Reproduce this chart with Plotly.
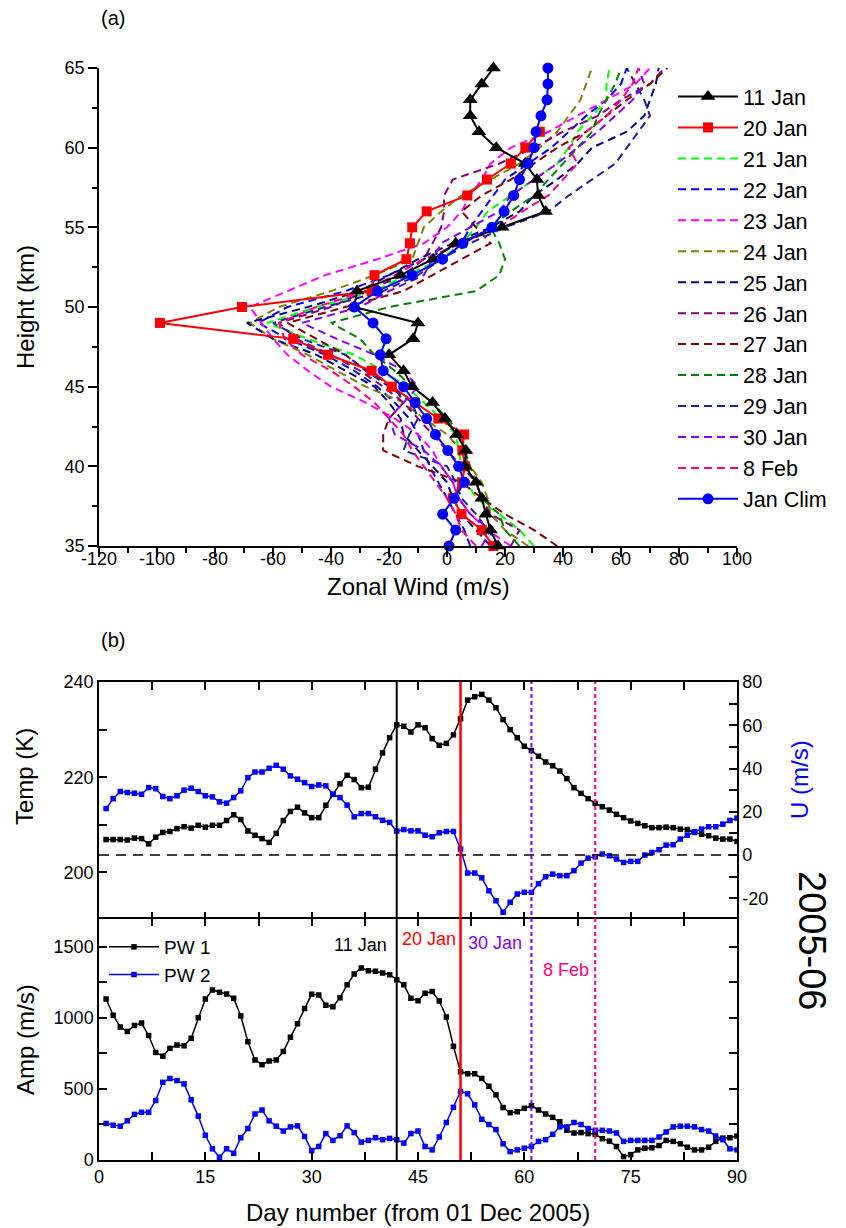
import plotly.graph_objects as go

# ---------------- (a) zonal wind profiles (m/s) vs height (km) ----------------
heights = list(range(35, 66))
heights_20jan = list(range(35, 62))

wind_11jan = [17.6, 15, 13.4, 12, 10, 6.2, 6.5, 3.4, -0.7, -5, -12, -15, -20, -11.7, -10,
              -32, -31, -16, -4.8, 3, 19, 34, 31.4, 31, 27, 17, 11, 8, 8, 12, 16]
wind_20jan = [16, 12, 5, 2, 5.2, 6.2, 5.3, 5.9, -3, -11, -19, -26, -41, -53, -99,
              -70.7, -26, -25, -14, -12.8, -12, -7, 7, 13.8, 22, 27, 32]
wind_21jan = [30, 25, 18, 10, 7, 5, 4, 3, -2, -8, -14, -22, -32, -48, -62,
              -45, -25, -14, -2, 5, 10, 14, 22, 30, 38, 42, 45, 50, 55, 55, 56]
wind_22jan = [8, 6, 3, 0, -3, -6, -8, -10, -13, -18, -24, -32, -42, -55, -65,
              -55, -35, -20, -8, 5, 8, 12, 16, 20, 28, 36, 42, 48, 55, 60, 62]
wind_23jan = [22, 14, 8, 4, 2, -2, -5, -10, -18, -28, -40, -48, -55, -60, -64,
              -68, -55, -42, -24, -8, 0, 5, 8, 12, 15, 22, 35, 45, 55, 65, 70]
wind_24jan = [28, 20, 15, 14, 12, 8, 5, 0, -8, -15, -28, -38, -48, -60, -68,
              -58, -40, -25, -12, -10, -8, -2, 5, 15, 25, 32, 38, 42, 46, 48, 50]
wind_25jan = [15, 10, 5, 2, 0, -5, -10, -15, -16, -20, -25, -35, -45, -60, -69,
              -48, -30, -20, -10, 2, 15, 25, 30, 38, 45, 50, 62, 68, 70, 72, 73]
wind_26jan = [22, 25, 15, 12, 10, 5, 0, -5, -10, -15, -22, -30, -40, -52, -58,
              -40, -28, -15, -8, -5, -2, -1, -1, 2, 18, 30, 40, 52, 60, 70, 75]
wind_27jan = [38, 30, 20, 12, 5, -10, -22, -22, -20, -15, -18, -28, -35, -45, -55,
              -35, -15, -5, 5, 15, 10, 5, 12, 22, 30, 38, 48, 55, 62, 70, 76]
wind_28jan = [25, 20, 18, 12, 10, 8, 6, 5, 0, -5, -12, -18, -25, -30, -40,
              -20, 10, 18, 20, 18, 15, 22, 30, 35, 40, 45, 50, 52, 55, 58, 60]
wind_29jan = [18, 14, 10, 5, 3, 0, -15, -13, -10, -12, -20, -28, -35, -50, -60,
              -42, -22, -10, -2, 8, 20, 35, 42, 50, 58, 62, 66, 70, 68, 65, 62]
wind_30jan = [12, 15, 8, 4, 2, -2, -8, -18, -20, -15, -10, -15, -25, -38, -50,
              -30, -20, -8, -5, -2, 8, 18, 22, 30, 38, 45, 52, 58, 64, 68, 66]
wind_8feb = [10, 5, 3, 0, -4, -8, -12, -15, -20, -25, -32, -40, -50, -56, -58,
             -45, -28, -18, -8, 5, 18, 26, 35, 40, 45, 42, 48, 55, 60, 64, 66]
wind_jan_clim = [0.7, 3, -1.5, 2.5, 6, 4, 0.3, -4, -7, -11, -15, -22, -23, -21, -25.5,
                 -32, -24, -12, -1.5, 5.5, 15.5, 19.7, 23, 25, 28, 30, 30.7, 32.4, 34.5, 34.8, 34.8]

dashed_names = ["21 Jan", "22 Jan", "23 Jan", "24 Jan", "25 Jan", "26 Jan",
                "27 Jan", "28 Jan", "29 Jan", "30 Jan", "8 Feb"]
dashed_values = [wind_21jan, wind_22jan, wind_23jan, wind_24jan, wind_25jan, wind_26jan,
                 wind_27jan, wind_28jan, wind_29jan, wind_30jan, wind_8feb]
dashed_colors = ["#00FF00", "#0000FF", "#FF00FF", "#808000", "#000080", "#800080",
                 "#800000", "#008000", "#1E1EA8", "#8000FF", "#FF0080"]

wind_ticks = list(range(-120, 101, 20))
wind_ticktext = [str(v) for v in wind_ticks]
height_ticks = [35, 40, 45, 50, 55, 60, 65]

# ---------------- (b) daily series, 01 Dec 2005 onwards ----------------
days = list(range(1, 91))
temp_k = [206.9, 206.9, 206.9, 206.8, 207.2, 207.1, 206.0, 207.4, 208.4, 208.6,
          209.2, 209.6, 209.3, 209.9, 209.5, 209.9, 209.9, 210.9, 212.1, 211.1,
          208.7, 207.8, 207.1, 206.3, 208.2, 210.9, 212.8, 213.7, 212.5, 211.5,
          211.5, 214.1, 216.4, 218.6, 220.4, 219.5, 217.8, 217.9, 221.7, 225.1,
          228.3, 231.0, 230.7, 229.5, 231.0, 230.4, 228.1, 226.7, 227.1, 228.9,
          232.3, 236.2, 236.9, 237.4, 236.2, 234.6, 232.1, 230.0, 228.3, 226.5,
          225.6, 224.4, 223.2, 222.4, 221.3, 219.7, 217.8, 216.6, 215.5, 214.5,
          213.8, 213.1, 212.2, 211.5, 210.8, 210.3, 209.8, 209.4, 209.4, 209.5,
          209.4, 209.1, 209.0, 208.4, 208.0, 207.7, 207.2, 207.0, 207.0, 206.5]
u_wind = [21.5, 26.1, 29.4, 28.9, 28.6, 28.1, 31.2, 30.7, 27.1, 26.1,
          27.4, 30.0, 30.9, 29.4, 27.4, 26.9, 24.6, 24.0, 26.6, 29.7,
          35.8, 38.4, 38.4, 40.1, 41.5, 39.7, 36.6, 35.1, 33.5, 31.7,
          32.4, 32.0, 28.1, 26.6, 23.1, 17.7, 19.2, 19.2, 17.7, 16.1,
          15.1, 11.1, 11.8, 11.2, 11.2, 9.2, 8.5, 10.3, 10.9, 10.9,
          2.8, -8.3, -8.3, -10.5, -16.5, -21.1, -26.4, -21.8, -18.0, -17.2,
          -17.2, -13.2, -10.0, -8.8, -9.5, -9.5, -7.2, -3.7, -1.4, -0.8,
          0.5, -0.3, -1.8, -3.4, -2.9, -2.9, 0.0, 1.2, 2.5, 4.6,
          4.8, 7.4, 9.2, 10.8, 12.0, 13.1, 13.1, 14.3, 16.0, 17.1]
pw1_amp = [1133, 1019, 936, 905, 947, 964, 876, 757, 731, 786,
           809, 804, 857, 1002, 1133, 1197, 1181, 1169, 1138, 1014,
           833, 704, 671, 697, 704, 764, 864, 959, 1066, 1166,
           1161, 1090, 1079, 1143, 1233, 1309, 1352, 1333, 1329, 1316,
           1304, 1269, 1233, 1138, 1121, 1174, 1186, 1119, 1007, 800,
           621, 607, 607, 574, 519, 459, 369, 333, 340, 364,
           383, 352, 324, 300, 269, 209, 190, 193, 186, 181,
           150, 133, 95, 24, 38, 71, 83, 86, 102, 138,
           131, 114, 90, 71, 71, 90, 131, 154, 157, 169]
pw2_amp = [257, 245, 238, 276, 321, 336, 336, 419, 547, 574,
           559, 536, 424, 309, 174, 79, 19, 79, 47, 157,
           221, 324, 352, 276, 238, 204, 233, 240, 166, 66,
           95, 186, 138, 171, 240, 193, 126, 138, 157, 143,
           152, 143, 119, 186, 204, 95, 71, 162, 264, 371,
           483, 466, 388, 286, 250, 214, 114, 59, 71, 83,
           95, 131, 143, 181, 233, 233, 264, 250, 221, 209,
           209, 204, 190, 131, 138, 138, 138, 138, 162, 197,
           233, 238, 238, 233, 214, 204, 169, 143, 79, 71]

u_ticks = [-20, 0, 20, 40, 60, 80]
u_ticktext = [str(v) for v in u_ticks]

event_days = [42, 51, 61, 70]
event_labels = ["11 Jan", "20 Jan", "30 Jan", "8 Feb"]
event_colors = ["#000000", "#FF0000", "#8000FF", "#FF0080"]

# ---------------- page geometry helpers ----------------
W, H = 846, 1228
FONT = "Arial, 'Liberation Sans', sans-serif"


def px(x):
    return x / W


def py(y):
    return 1 - y / H


X_DOM = [px(99), px(737)]

fig = go.Figure()

# dashed daily profiles
for rank, (name, vals, color) in enumerate(zip(dashed_names, dashed_values, dashed_colors)):
    fig.add_trace(go.Scatter(
        x=vals, y=heights, mode="lines", name=name, legend="legend", legendrank=3 + rank,
        line=dict(color=color, width=2, dash="8px,5px"), xaxis="x", yaxis="y"))

fig.add_trace(go.Scatter(
    x=wind_20jan, y=heights_20jan, mode="lines+markers", name="20 Jan", legend="legend",
    legendrank=2, line=dict(color="#FF0000", width=2),
    marker=dict(symbol="square", size=10, color="#FF0000"), cliponaxis=False,
    xaxis="x", yaxis="y"))
fig.add_trace(go.Scatter(
    x=wind_11jan, y=heights, mode="lines+markers", name="11 Jan", legend="legend",
    legendrank=1, line=dict(color="#000000", width=2),
    marker=dict(symbol="triangle-up", size=13, color="#000000"), cliponaxis=False,
    xaxis="x", yaxis="y"))
fig.add_trace(go.Scatter(
    x=wind_jan_clim, y=heights, mode="lines+markers", name="Jan Clim", legend="legend",
    legendrank=14, line=dict(color="#0000FF", width=2),
    marker=dict(symbol="circle", size=11, color="#0000FF"), cliponaxis=False,
    xaxis="x", yaxis="y"))

# temperature and zonal wind
fig.add_trace(go.Scatter(
    x=days, y=temp_k, mode="lines+markers", showlegend=False,
    line=dict(color="#000000", width=1.5), marker=dict(symbol="square", size=5.5, color="#000000"),
    xaxis="x2", yaxis="y2"))
fig.add_trace(go.Scatter(
    x=days, y=u_wind, mode="lines+markers", showlegend=False,
    line=dict(color="#0000FF", width=1.5), marker=dict(symbol="square", size=5.5, color="#0000FF"),
    xaxis="x2", yaxis="y3"))

# planetary wave amplitudes
fig.add_trace(go.Scatter(
    x=days, y=pw1_amp, mode="lines+markers", name="PW 1", legend="legend2",
    line=dict(color="#000000", width=1.5), marker=dict(symbol="square", size=5.5, color="#000000"),
    xaxis="x3", yaxis="y4"))
fig.add_trace(go.Scatter(
    x=days, y=pw2_amp, mode="lines+markers", name="PW 2", legend="legend2",
    line=dict(color="#0000FF", width=1.5), marker=dict(symbol="square", size=5.5, color="#0000FF"),
    xaxis="x3", yaxis="y4"))

shapes = []
# U = 0 reference line
shapes.append(dict(type="line", xref="x2", yref="y3", x0=0, x1=90, y0=0, y1=0,
                   line=dict(color="#000000", width=1.5, dash="10px,7px")))
# event markers spanning both lower subplots
event_dash = ["solid", "solid", "4px,3px", "4px,3px"]
event_width = [2, 2.5, 2, 2]
for d, c, ds, lw in zip(event_days, event_colors, event_dash, event_width):
    shapes.append(dict(type="line", xref="x3", yref="paper", x0=d, x1=d,
                       y0=py(1160), y1=py(682), line=dict(color=c, width=lw, dash=ds)))

annotations = []


def label(text, x, y, size, color="#000000", angle=0, xanchor="center"):
    annotations.append(dict(text=text, x=px(x), y=py(y), xref="paper", yref="paper",
                            showarrow=False, textangle=angle, xanchor=xanchor, yanchor="middle",
                            font=dict(family=FONT, size=size, color=color)))


label("(a)", 113, 18, 20)
label("Height (km)", 25, 307, 24, angle=-90)
label("Zonal Wind (m/s)", 418, 586, 24)
label("(b)", 113, 640, 20)
label("Temp (K)", 25, 777, 24, angle=-90)
label("U (m/s)", 800, 780, 24, color="#0000FF", angle=-90)
label("Amp (m/s)", 25, 1040, 24, angle=-90)
label("Day number (from 01 Dec 2005)", 418, 1212, 24)
label("2005-06", 812, 940, 38, angle=90)

# event captions in the amplitude panel
label(event_labels[0], 389, 945, 18, color=event_colors[0], xanchor="right")
label(event_labels[1], 400, 939, 18, color=event_colors[1], xanchor="left")
label(event_labels[2], 466, 943, 18, color=event_colors[2], xanchor="left")
label(event_labels[3], 541, 970, 18, color=event_colors[3], xanchor="left")

axis_common = dict(showline=True, linecolor="#000000", linewidth=1.5, showgrid=False,
                   zeroline=False, tickcolor="#000000", tickwidth=1.5, automargin=False,
                   tickfont=dict(family=FONT, size=18, color="#000000"))

fig.update_layout(
    width=W, height=H, margin=dict(l=0, r=0, t=0, b=0, autoexpand=False),
    paper_bgcolor="white", plot_bgcolor="white",
    font=dict(family=FONT, color="#000000"),
    shapes=shapes, annotations=annotations,
    xaxis=dict(domain=X_DOM, anchor="y", range=[-120, 100], tickmode="array",
               tickvals=wind_ticks, ticktext=wind_ticktext,
               ticks="outside", ticklen=9, ticklabelstandoff=-13,
               minor=dict(dtick=10, ticks="outside", ticklen=5, tickcolor="#000000", tickwidth=1.5),
               **axis_common),
    yaxis=dict(domain=[py(546), py(68)], anchor="x", range=[35, 65], tickmode="array",
               tickvals=height_ticks, ticks="outside", ticklen=9,
               minor=dict(dtick=2.5, ticks="outside", ticklen=5, tickcolor="#000000", tickwidth=1.5),
               **axis_common),
    xaxis2=dict(domain=X_DOM, anchor="y2", range=[0, 90], dtick=15, ticks="inside", ticklen=8,
                showticklabels=False, mirror="allticks",
                minor=dict(dtick=7.5, ticks="inside", ticklen=8, tickcolor="#000000", tickwidth=1.5),
                **axis_common),
    yaxis2=dict(domain=[py(920), py(682)], anchor="x2", range=[190, 240], tick0=200, dtick=20,
                ticks="inside", ticklen=8, mirror=True,
                minor=dict(dtick=10, ticks="inside", ticklen=8, tickcolor="#000000", tickwidth=1.5),
                **axis_common),
    yaxis3=dict(overlaying="y2", anchor="x2", side="right", range=[-30, 80], tickmode="array",
                tickvals=u_ticks, ticktext=u_ticktext, ticks="inside", ticklen=8,
                minor=dict(dtick=10, ticks="inside", ticklen=8, tickcolor="#000000", tickwidth=1.5),
                **axis_common),
    xaxis3=dict(domain=X_DOM, anchor="y4", range=[0, 90], dtick=15, ticks="inside", ticklen=8,
                mirror="allticks",
                minor=dict(dtick=7.5, ticks="inside", ticklen=8, tickcolor="#000000", tickwidth=1.5),
                **axis_common),
    yaxis4=dict(domain=[py(1160), py(918.5)], anchor="x3", range=[0, 1700], dtick=500,
                ticks="inside", ticklen=8, mirror="allticks",
                minor=dict(dtick=250, ticks="inside", ticklen=8, tickcolor="#000000", tickwidth=1.5),
                **axis_common),
    legend=dict(x=px(673), y=py(76), xanchor="left", yanchor="top", bgcolor="rgba(0,0,0,0)",
                font=dict(family=FONT, size=21.5, color="#000000"), itemwidth=60,
                tracegroupgap=0),
    legend2=dict(x=px(104), y=py(928), xanchor="left", yanchor="top", bgcolor="rgba(0,0,0,0)",
                 font=dict(family=FONT, size=19, color="#000000"), itemwidth=50),
)

fig.write_html("out.html")
